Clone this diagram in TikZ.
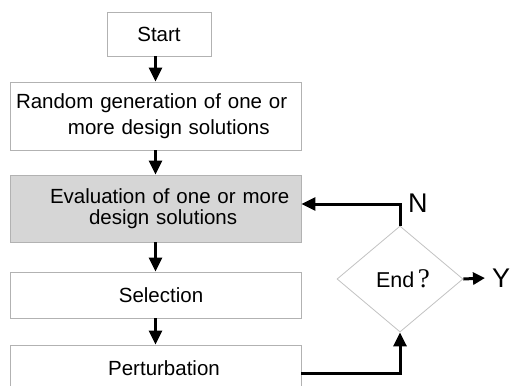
\documentclass[tikz,border=0pt]{standalone}
\usepackage{fontspec}
\setmainfont{Liberation Sans}
\newfontfamily\qmarkfont{Liberation Serif}
\usetikzlibrary{arrows.meta,shapes.geometric}
\definecolor{boxgray}{gray}{0.70}
\definecolor{evalgray}{gray}{0.84}

\begin{document}
\begin{tikzpicture}[x=1pt,y=-1pt,
	box/.style={draw=boxgray,line width=0.9pt,inner sep=0pt,minimum width=291pt,font=\fontsize{20.5}{26}\selectfont},
	flow/.style={line width=3pt,-{Triangle[length=14pt,width=13pt]}},
	lbl/.style={inner sep=0pt,font=\fontsize{27}{30}\selectfont}]
	\useasboundingbox (0,0) rectangle (512,386);
	\clip (0,0) rectangle (512,386);
	\node[box,minimum width=104pt,minimum height=44pt] (start) at (159,34) {Start};
	\node[box,minimum height=68pt,text width=291pt,align=left] (gen) at (155.5,116) {\hspace*{6pt}Random generation of one or\\\hspace*{58pt}more design solutions};
	\node[box,fill=evalgray,minimum height=67pt,text width=291pt,align=left,font=\fontsize{20.5}{21.5}\selectfont] (eval) at (155.5,208.5) {\hspace*{40pt}Evaluation of one or more\\\hspace*{79pt}design solutions};
	\node[box,minimum height=46pt,text width=291pt,align=center] (sel) at (155.5,295) {\hspace*{11pt}Selection};
	\node[box,minimum height=46pt,text width=291pt,align=center] (pert) at (155.5,368) {\hspace*{17pt}Perturbation};
	\node[diamond,draw=boxgray!80,line width=0.8pt,inner sep=0pt,aspect=1.19,minimum width=126pt,minimum height=106pt,font=\fontsize{21.5}{22}\selectfont] (end) at (400,279) {\hspace*{6pt}End\,{\qmarkfont\fontsize{27}{28}\selectfont ?}};
	\coordinate (nturn) at (400,204);
	\coordinate (yend) at (485,278);
	\draw[flow] (start.south -| gen.north) -- (gen.north);
	\draw[flow] (gen) -- (eval);
	\draw[flow] (eval) -- (sel);
	\draw[flow] (sel) -- (pert);
	\draw[flow] (pert.east |- 0,373) -| (end.south);
	\draw[flow] (end.north) -- (nturn) -- (nturn -| eval.east);
	\draw[flow,-{Triangle[length=12pt,width=12pt]}] (end.east) -- (yend);
	\node[lbl,anchor=west] (nlab) at ([xshift=8pt,yshift=1pt]nturn) {N};
	\node[lbl,anchor=west] (ylab) at ([xshift=7pt]yend) {Y};
\end{tikzpicture}
\end{document}
